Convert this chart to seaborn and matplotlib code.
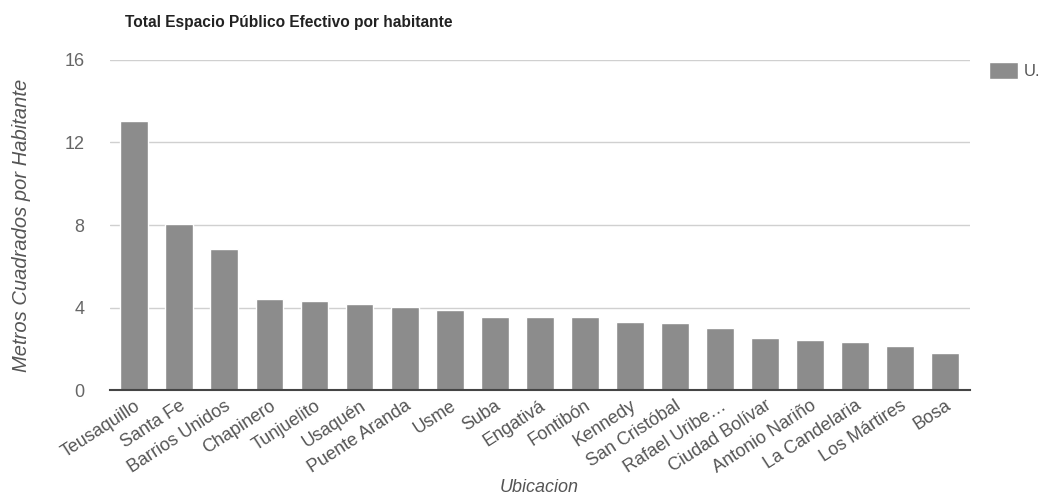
import matplotlib
matplotlib.use("Agg")
import matplotlib.pyplot as plt
import seaborn as sns
import pandas as pd

categories = ["Teusaquillo", "Santa Fe", "Barrios Unidos", "Chapinero", "Tunjuelito",
              "Usaquén", "Puente Aranda", "Usme", "Suba", "Engativá", "Fontibón",
              "Kennedy", "San Cristóbal", "Rafael Uribe…", "Ciudad Bolívar",
              "Antonio Nariño", "La Candelaria", "Los Mártires", "Bosa"]
values = [13.05, 8.05, 6.85, 4.4, 4.3, 4.2, 4.05, 3.9, 3.55, 3.55, 3.55,
          3.3, 3.25, 3.0, 2.55, 2.45, 2.35, 2.15, 1.8]
yticks = [0, 4, 8, 12, 16]
series_name = "U."

sns.set_theme(style="white")
plt.rcParams['font.family'] = ['Liberation Sans', 'DejaVu Sans']

df = pd.DataFrame({"Ubicacion": categories, "val": values})

fig = plt.figure(figsize=(10.54, 4.99), dpi=100)
ax = fig.add_axes([0.104, 0.218, 0.816, 0.662])

bar_color = "#8c8c8c"
sns.barplot(data=df, x="Ubicacion", y="val", color=bar_color, width=0.62,
            label=series_name, ax=ax, saturation=1)

ax.set_ylim(0, 16)
ax.set_yticks(yticks)
ax.set_yticklabels([str(t) for t in yticks], fontsize=13, color="#666666")
ax.yaxis.grid(True, color="#d0d0d0", linewidth=1)
ax.set_axisbelow(True)
for s in ["top", "right", "left"]:
    ax.spines[s].set_visible(False)
ax.spines["bottom"].set_color("#444444")
ax.spines["bottom"].set_linewidth(1.5)
ax.tick_params(axis="y", length=0, pad=18)
ax.tick_params(axis="x", length=0, pad=5)
ax.set_xlim(-0.55, len(categories) - 0.45)

ax.set_xticks(range(len(categories)))
ax.set_xticklabels(categories, rotation=33, ha="right", rotation_mode="anchor",
                   fontsize=13, color="#555555")

ax.set_xlabel("Ubicacion", fontsize=13, style="italic", color="#555555", labelpad=2)
ax.set_ylabel("Metros Cuadrados por Habitante", fontsize=14.5, style="italic",
              color="#555555", labelpad=24)

fig.text(0.119, 0.955, "Total Espacio Público Efectivo por habitante",
         fontsize=11.2, fontweight="bold", color="#222222", ha="left", va="center")

leg = ax.legend(loc="upper left", bbox_to_anchor=(1.015, 1.015), frameon=False,
                fontsize=12, handlelength=1.7, handleheight=1.2, handletextpad=0.4,
                borderaxespad=0)
for t in leg.get_texts():
    t.set_color("#555555")

fig.savefig("out.png", dpi=100)
